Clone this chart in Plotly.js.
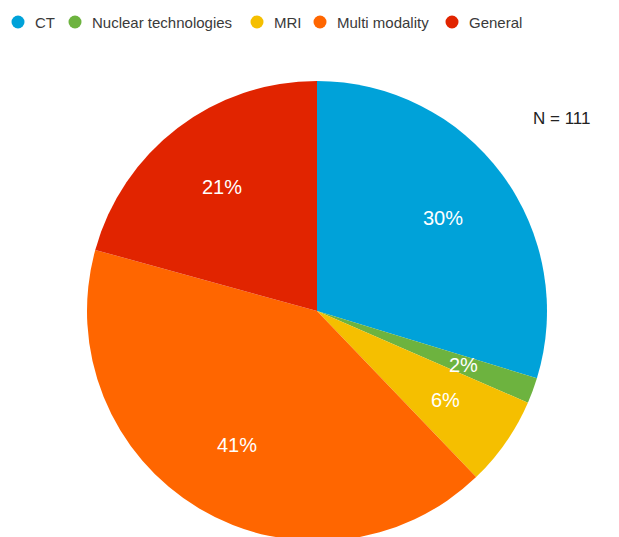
<!DOCTYPE html>
<html>
<head>
<meta charset="utf-8">
<script src="https://cdn.plot.ly/plotly-3.0.1.min.js"></script>
<style>
html, body { margin:0; padding:0; overflow:hidden; background:#fff; }
#chart { width:619px; height:545px; }
</style>
</head>
<body>
<div id="chart"></div>
<script>
// ---- data ----
const categories = ["CT", "Nuclear technologies", "MRI", "Multi modality", "General"];
const counts = [33, 2, 7, 46, 23];
const colors = ["#00A2D9", "#6DB33F", "#F5BF00", "#FF6600", "#E12400"];
const totalLabel = "N = 111";

// ---- layout constants ----
const W = 619, H = 545;
const cx = 317, cy = 311, R = 230;   // pie centre/radius in pixels (from top-left)
const labelR = 0.68 * R;
const font = "Liberation Sans, Arial, Helvetica, sans-serif";

const px = x => x / W;
const py = y => (H - y) / H;

const total = counts.reduce((a, b) => a + b, 0);

const trace = {
  type: "pie",
  labels: categories,
  values: counts,
  sort: false,
  direction: "clockwise",
  rotation: 0,
  marker: { colors: colors, line: { width: 0 } },
  textinfo: "none",
  hoverinfo: "label+percent",
  showlegend: false,
  domain: { x: [px(cx - R), px(cx + R)], y: [py(cy + R), py(cy - R)] }
};

const annotations = [];
const shapes = [];

// percentage labels at slice mid-angles
let cum = 0;
counts.forEach((v, i) => {
  const mid = (cum + v / 2) / total * 2 * Math.PI;
  cum += v;
  const x = cx + labelR * Math.sin(mid);
  const y = cy - labelR * Math.cos(mid);
  annotations.push({
    xref: "paper", yref: "paper", x: px(x), y: py(y),
    text: Math.round(v / total * 100) + "%",
    showarrow: false, xanchor: "center", yanchor: "middle",
    font: { family: font, size: 20, color: "#ffffff" }
  });
});

// custom legend with circle markers
const legendCx = [18, 75, 257, 320, 452];
const legendY = 22;
categories.forEach((c, i) => {
  const r = 6.5;
  shapes.push({
    type: "circle", xref: "paper", yref: "paper",
    x0: px(legendCx[i] - r), x1: px(legendCx[i] + r),
    y0: py(legendY + r), y1: py(legendY - r),
    fillcolor: colors[i], line: { width: 0 }
  });
  annotations.push({
    xref: "paper", yref: "paper", x: px(legendCx[i] + 15), y: py(legendY),
    text: c, showarrow: false, xanchor: "left", yanchor: "middle",
    font: { family: font, size: 15, color: "#3a3a3a" }
  });
});

// N label
annotations.push({
  xref: "paper", yref: "paper", x: px(562), y: py(118),
  text: totalLabel, showarrow: false, xanchor: "center", yanchor: "middle",
  font: { family: font, size: 17, color: "#222222" }
});

const layout = {
  width: W, height: H,
  margin: { l: 0, r: 0, t: 0, b: 0 },
  paper_bgcolor: "#ffffff",
  showlegend: false,
  annotations: annotations,
  shapes: shapes
};

Plotly.newPlot("chart", [trace], layout, { displayModeBar: false, staticPlot: true });
</script>
</body>
</html>
